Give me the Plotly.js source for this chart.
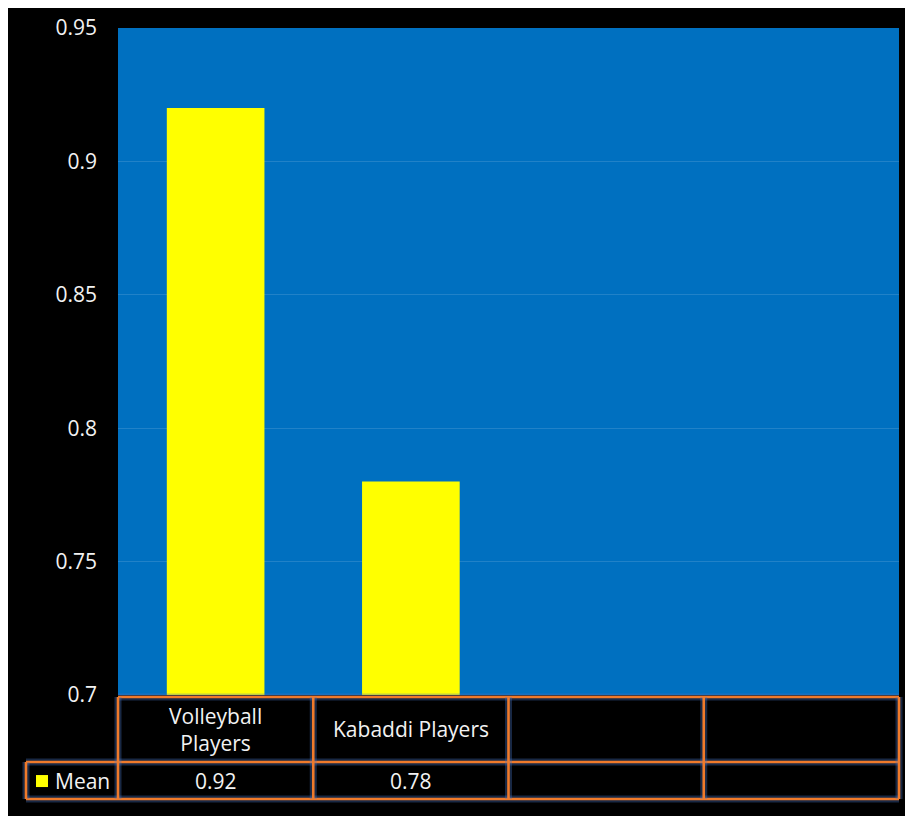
<!DOCTYPE html>
<html>
<head>
<meta charset="utf-8">
<script src="https://cdn.plot.ly/plotly-3.0.1.min.js"></script>
<style>
  html, body { background: #ffffff; margin: 0; padding: 0; overflow: hidden; }
  #chart { position: absolute; left: 8px; top: 8px; width: 897px; height: 808px; }
</style>
</head>
<body>
<div id="chart"></div>
<script>
// Mean scores per player group; the last two columns of the data table are empty
const categories = ['Volleyball<br>Players', 'Kabaddi Players', '', ''];
const seriesName = 'Mean';
const means = [0.92, 0.78, null, null];
const yTicks = [0.7, 0.75, 0.8, 0.85, 0.9, 0.95];
const yTickLabels = ['0.7', '0.75', '0.8', '0.85', '0.9', '0.95'];

const positions = categories.map((_, i) => i);
const nCols = categories.length;
const borderColor = '#F07A2A';
const glowColor = 'rgba(68,114,196,0.35)';
const textColor = '#f2f2f2';
const fontFamily = '"Open Sans", "Noto Sans", sans-serif';
const fontSize = 21;

// column centre / edge of the data table in paper units
const colCentre = i => (i + 0.5) / nCols;
const colEdge = i => i / nCols;

// Table grid geometry in paper units
const rowTop = -0.003, rowMid = -0.1004, rowBottom = -0.156;
const legendLeft = -0.1178;

const shapes = [];
function tableLine(x0, y0, x1, y1) {
  shapes.push({type: 'line', xref: 'paper', yref: 'paper', x0, y0, x1, y1,
    line: {color: glowColor, width: 7}, layer: 'above'});
  shapes.push({type: 'line', xref: 'paper', yref: 'paper', x0, y0, x1, y1,
    line: {color: borderColor, width: 2.6}, layer: 'above'});
}
// horizontal rules
tableLine(0, rowTop, 1, rowTop);
tableLine(legendLeft, rowMid, 1, rowMid);
tableLine(legendLeft, rowBottom, 1, rowBottom);
// vertical rules
for (let i = 0; i <= nCols; i++) tableLine(colEdge(i), rowTop, colEdge(i), rowBottom);
tableLine(legendLeft, rowMid, legendLeft, rowBottom);

// legend key inside the table
shapes.push({type: 'rect', xref: 'paper', yref: 'paper',
  x0: -0.105, x1: -0.0896, y0: -0.120, y1: -0.138,
  fillcolor: '#FFFF00', line: {width: 0}, layer: 'above'});

const annotations = [];
categories.forEach((c, i) => {
  if (c) annotations.push({x: colCentre(i), xref: 'paper', y: -0.051, yref: 'paper', text: c,
    showarrow: false, xanchor: 'center', yanchor: 'middle',
    font: {family: fontFamily, size: fontSize, color: textColor}});
  if (means[i] !== null) annotations.push({x: colCentre(i), xref: 'paper', y: -0.129, yref: 'paper',
    text: means[i].toFixed(2), showarrow: false, xanchor: 'center', yanchor: 'middle',
    font: {family: fontFamily, size: fontSize, color: textColor}});
});
annotations.push({x: -0.083, xref: 'paper', y: -0.129, yref: 'paper', text: seriesName,
  showarrow: false, xanchor: 'left', yanchor: 'middle',
  font: {family: fontFamily, size: fontSize, color: textColor}});

const trace = {
  type: 'bar',
  name: seriesName,
  x: positions,
  y: means,
  width: 0.5,
  marker: {color: '#FFFF00', line: {width: 0}},
  hoverinfo: 'skip'
};

const layout = {
  width: 897,
  height: 808,
  paper_bgcolor: '#000000',
  plot_bgcolor: '#0070C0',
  margin: {l: 110, r: 6, t: 20, b: 121, pad: 0},
  showlegend: false,
  xaxis: {
    range: [-0.5, nCols - 0.5],
    showticklabels: false,
    showgrid: false,
    zeroline: false,
    showline: false,
    fixedrange: true
  },
  yaxis: {
    range: [0.7, 0.95],
    tickvals: yTicks,
    ticktext: yTickLabels,
    showgrid: true,
    gridcolor: 'rgba(255,255,255,0.13)',
    gridwidth: 1,
    zeroline: false,
    showline: false,
    ticks: '',
    ticklabelstandoff: 20,
    tickfont: {family: fontFamily, size: fontSize, color: textColor},
    fixedrange: true
  },
  shapes: shapes,
  annotations: annotations
};

Plotly.newPlot('chart', [trace], layout, {displayModeBar: false, staticPlot: true});
</script>
</body>
</html>
